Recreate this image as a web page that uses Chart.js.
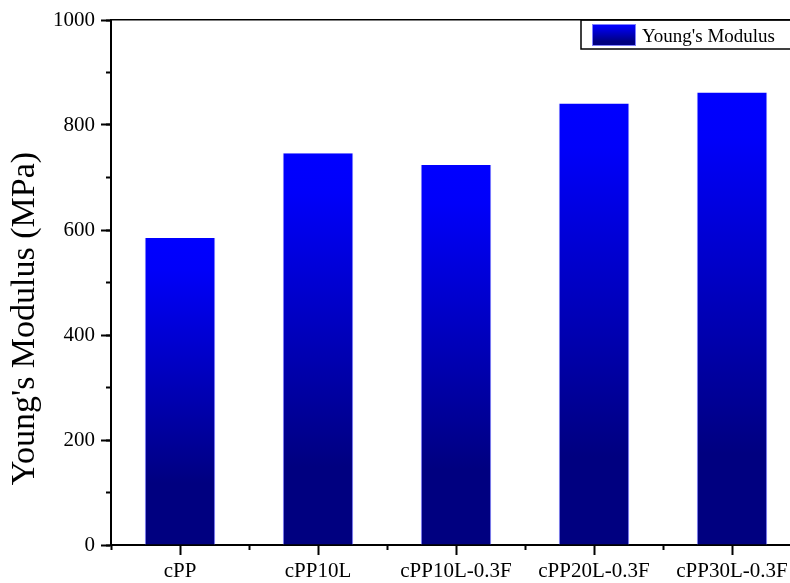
<!DOCTYPE html>
<html>
<head>
<meta charset="utf-8">
<title>Young's Modulus</title>
<script src="https://cdn.jsdelivr.net/npm/chart.js@4"></script>
<style>
    html, body { margin: 0; padding: 0; background: #fff; overflow: hidden; }
    #wrap { position: relative; width: 810px; height: 583px; }
</style>
</head>
<body>
<div id="wrap"><canvas id="chart"></canvas></div>
<script>
// ------------------------------------------------------------
//  Data
// ------------------------------------------------------------
const categories  = ['cPP', 'cPP10L', 'cPP10L-0.3F', 'cPP20L-0.3F', 'cPP30L-0.3F']
const modulus     = [585, 746, 724, 841, 862]
const yTicks      = [0, 200, 400, 600, 800, 1000]
const seriesLabel = "Young's Modulus"
const axisTitle   = "Young's Modulus (MPa)"

const FONT = '"Liberation Serif", "Times New Roman", serif'

// ------------------------------------------------------------
//  Blue -> navy vertical gradient
// ------------------------------------------------------------
function blueGradient(ctx, top, bottom) {
    const g = ctx.createLinearGradient(0, top, 0, bottom)
    g.addColorStop(0,    '#0000ff')
    g.addColorStop(0.1,  '#0000fa')
    g.addColorStop(0.8,  '#000080')
    g.addColorStop(1,    '#000080')
    return g
}

function barFill(c) {
    const chart = c.chart
    if (!chart.chartArea || c.dataIndex === undefined) return '#0000ff'
    const y = chart.scales.y
    return blueGradient(chart.ctx, y.getPixelForValue(modulus[c.dataIndex]), y.getPixelForValue(0))
}

// ------------------------------------------------------------
//  Rotated y title + boxed legend (drawn by hand)
// ------------------------------------------------------------
const extras = {
    id: 'extras',
    afterDraw(chart) {
        const ctx = chart.ctx
        const area = chart.chartArea
        const midY = (area.top + area.bottom) / 2 + 36

        // y title
        ctx.save()
        ctx.translate(34, midY)
        ctx.rotate(-Math.PI / 2)
        ctx.font = `34px ${FONT}`
        ctx.fillStyle = '#000'
        ctx.textAlign = 'center'
        ctx.textBaseline = 'alphabetic'
        ctx.fillText(axisTitle, 0, 0)
        ctx.restore()

        // legend
        const lx = 581, ly = area.top, lh = 29
        ctx.save()
        ctx.lineWidth = 1.5
        ctx.strokeStyle = '#000'
        ctx.strokeRect(lx, ly, 400, lh)
        ctx.fillStyle = blueGradient(ctx, ly + 4, ly + 26)
        ctx.fillRect(lx + 11, ly + 4, 44, 22)
        ctx.lineWidth = 1
        ctx.strokeStyle = '#7f7fff'
        ctx.strokeRect(lx + 11.5, ly + 4.5, 43, 21)
        ctx.font = `19px ${FONT}`
        ctx.fillStyle = '#000'
        ctx.textBaseline = 'alphabetic'
        ctx.fillText(seriesLabel, lx + 61, ly + 21.5)
        ctx.restore()
    }
}

// ------------------------------------------------------------
//  Chart
// ------------------------------------------------------------
new Chart(document.getElementById('chart'), {
    type: 'bar',
    data: {
        labels: categories,
        datasets: [{
            label:           seriesLabel,
            data:            modulus,
            backgroundColor: barFill,
            borderColor:     'rgba(110,110,255,0.9)',
            borderWidth:     { left: 1, right: 1, top: 0, bottom: 0 },
            borderSkipped:   false,
            categoryPercentage: 1,
            barPercentage:   0.51,
        }]
    },
    options: {
        responsive:          true,
        maintainAspectRatio: false,
        animation:           false,
        layout: { padding: { top: 20, right: 9, left: 0, bottom: 0 } },
        plugins: {
            legend:  { display: false },
            tooltip: { enabled: false },
        },
        scales: {
            x: {
                type: 'category',
                position: 'bottom',
                weight: 1,
                offset: true,
                grid:   { offset: false, drawOnChartArea: false, tickLength: 10, tickWidth: 2, color: '#000' },
                border: { display: true, width: 2, color: '#000' },
                ticks:  { color: '#000', padding: 4, maxRotation: 0, autoSkip: false, font: { family: FONT, size: 21 } },
                afterFit: s => { s.height = 38 },
            },
            x2: {
                type: 'category',
                position: 'bottom',
                weight: 0,
                offset: true,
                grid:   { offset: true, drawOnChartArea: false, tickLength: 5, tickWidth: 2, color: '#000' },
                border: { display: false },
                ticks:  { display: false },
                afterFit: s => { s.height = 0 },
            },
            xTop: {
                type: 'category',
                position: 'top',
                offset: true,
                grid:   { display: false },
                border: { display: true, width: 1.5, color: '#000' },
                ticks:  { display: false },
                afterFit: s => { s.height = 0 },
            },
            y: {
                position: 'left',
                weight: 1,
                min: 0,
                max: 1000,
                afterBuildTicks: s => { s.ticks = yTicks.map(v => ({ value: v })) },
                grid:   { drawOnChartArea: false, tickLength: 10, tickWidth: 2, color: '#000' },
                border: { display: true, width: 2, color: '#000' },
                ticks:  { color: '#000', padding: 6, font: { family: FONT, size: 21 }, callback: v => String(v) },
                afterFit: s => { s.width = 111 },
            },
            y2: {
                position: 'left',
                weight: 0,
                min: 0,
                max: 1000,
                ticks:  { display: false, stepSize: 100 },
                grid:   { drawOnChartArea: false, tickLength: 5, tickWidth: 2, color: '#000' },
                border: { display: false },
                afterFit: s => { s.width = 0 },
            },
        }
    },
    plugins: [extras]
})
</script>
</body>
</html>
